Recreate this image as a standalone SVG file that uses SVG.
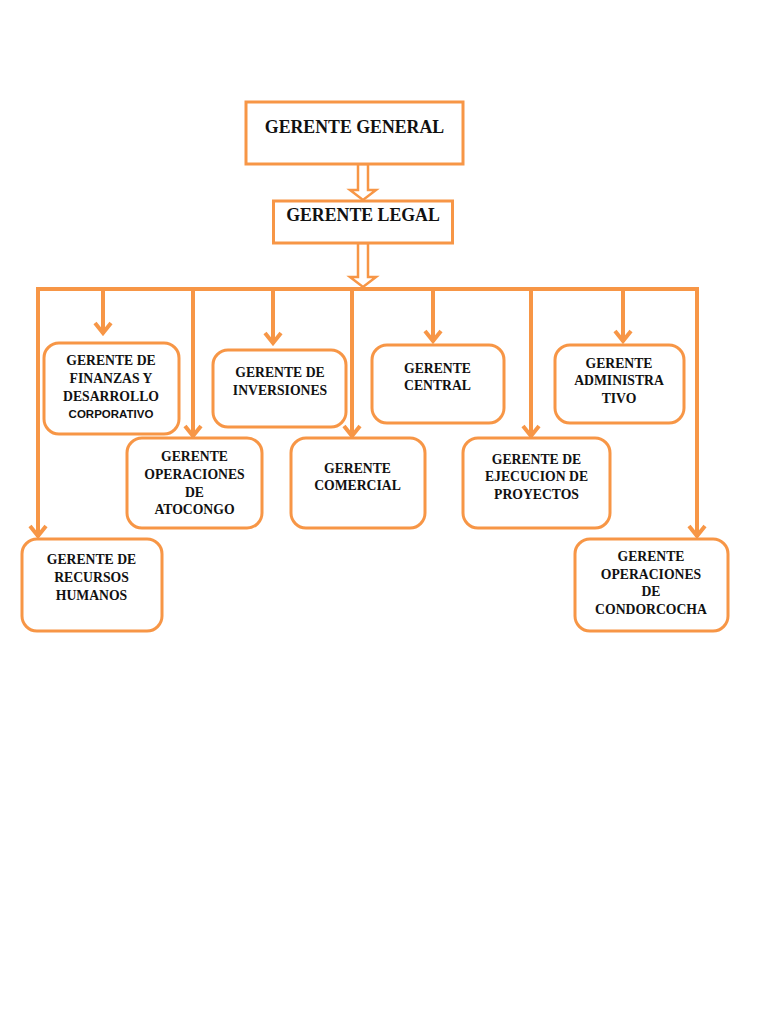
<svg xmlns="http://www.w3.org/2000/svg" width="768" height="1024" viewBox="0 0 768 1024">
<style>
.box{fill:#fff;stroke:#F79646;stroke-width:3}
.rbox{fill:#fff;stroke:#F79646;stroke-width:3}
.ln{fill:none;stroke:#F79646;stroke-width:4;stroke-linecap:butt}
.blk{fill:#fff;stroke:#F79646;stroke-width:2.5;stroke-linejoin:miter}
.t{font-family:"Liberation Serif","Times New Roman",serif;font-weight:bold;font-size:13.7px;fill:#111;text-anchor:middle}
.tt{font-family:"Liberation Serif","Times New Roman",serif;font-weight:bold;font-size:17.8px;fill:#111;text-anchor:middle}
.s{font-family:"Liberation Sans",Arial,sans-serif;font-weight:bold;font-size:11.5px;fill:#111;text-anchor:middle}
</style>
<defs>
<marker id="ad" markerUnits="userSpaceOnUse" viewBox="-12 -14 24 16" refX="0" refY="0" markerWidth="24" markerHeight="16" orient="0">
<path d="M-8,-11 L0,-1 L8,-11" fill="none" stroke="#F79646" stroke-width="4" stroke-linejoin="miter"/>
</marker>
</defs>

<g id="connectors">
<path class="blk" d="M358,164 L368,164 L368,190 L376,190 L363,200 L350,190 L358,190 Z"/>
<path class="blk" d="M358,243 L368,243 L368,277 L376,277 L363,287 L350,277 L358,277 Z"/>
<path class="ln" d="M38,289 L697,289"/>
<path class="ln" d="M38,287 L38,537" marker-end="url(#ad)"/>
<path class="ln" d="M103,289 L103,334" marker-end="url(#ad)"/>
<path class="ln" d="M193,289 L193,437" marker-end="url(#ad)"/>
<path class="ln" d="M273,289 L273,344" marker-end="url(#ad)"/>
<path class="ln" d="M352,289 L352,437" marker-end="url(#ad)"/>
<path class="ln" d="M433,289 L433,342" marker-end="url(#ad)"/>
<path class="ln" d="M531,289 L531,437" marker-end="url(#ad)"/>
<path class="ln" d="M623,289 L623,342" marker-end="url(#ad)"/>
<path class="ln" d="M697,287 L697,537" marker-end="url(#ad)"/>
</g>

<g id="gerente-general">
<rect class="box" x="246" y="102" width="217" height="62"/>
<text class="tt" x="354.5" y="132.5">GERENTE GENERAL</text>
</g>

<g id="gerente-legal">
<rect class="box" x="273.5" y="201" width="179" height="42"/>
<text class="tt" x="363" y="221">GERENTE LEGAL</text>
</g>

<g id="finanzas">
<rect class="rbox" x="44" y="343" width="135" height="91" rx="15"/>
<text class="t" x="111" y="365">GERENTE DE</text>
<text class="t" x="111" y="382.5">FINANZAS Y</text>
<text class="t" x="111" y="400.5">DESARROLLO</text>
<text class="s" x="111" y="418">CORPORATIVO</text>
</g>

<g id="inversiones">
<rect class="rbox" x="213" y="350" width="133" height="77" rx="15"/>
<text class="t" x="280" y="377">GERENTE DE</text>
<text class="t" x="280" y="395">INVERSIONES</text>
</g>

<g id="central">
<rect class="rbox" x="372" y="345" width="132" height="78" rx="15"/>
<text class="t" x="437.5" y="372.5">GERENTE</text>
<text class="t" x="437.5" y="390">CENTRAL</text>
</g>

<g id="administrativo">
<rect class="rbox" x="555" y="345" width="129" height="78" rx="15"/>
<text class="t" x="619" y="367.5">GERENTE</text>
<text class="t" x="619" y="384.5">ADMINISTRA</text>
<text class="t" x="619" y="402.5">TIVO</text>
</g>

<g id="atocongo">
<rect class="rbox" x="127" y="438" width="135" height="90" rx="15"/>
<text class="t" x="194.5" y="461">GERENTE</text>
<text class="t" x="194.5" y="478.5">OPERACIONES</text>
<text class="t" x="194.5" y="496.5">DE</text>
<text class="t" x="194.5" y="513.5">ATOCONGO</text>
</g>

<g id="comercial">
<rect class="rbox" x="291" y="438" width="134" height="90" rx="15"/>
<text class="t" x="357.5" y="472.5">GERENTE</text>
<text class="t" x="357.5" y="490">COMERCIAL</text>
</g>

<g id="ejecucion">
<rect class="rbox" x="463" y="438" width="147" height="90" rx="15"/>
<text class="t" x="536.5" y="463.5">GERENTE DE</text>
<text class="t" x="536.5" y="481">EJECUCION DE</text>
<text class="t" x="536.5" y="499">PROYECTOS</text>
</g>

<g id="recursos-humanos">
<rect class="rbox" x="22" y="539" width="140" height="92" rx="15"/>
<text class="t" x="91.5" y="564">GERENTE DE</text>
<text class="t" x="91.5" y="582">RECURSOS</text>
<text class="t" x="91.5" y="600">HUMANOS</text>
</g>

<g id="condorcocha">
<rect class="rbox" x="575" y="539" width="153" height="92" rx="15"/>
<text class="t" x="651" y="560.5">GERENTE</text>
<text class="t" x="651" y="578.5">OPERACIONES</text>
<text class="t" x="651" y="596">DE</text>
<text class="t" x="651" y="613.5">CONDORCOCHA</text>
</g>
</svg>
